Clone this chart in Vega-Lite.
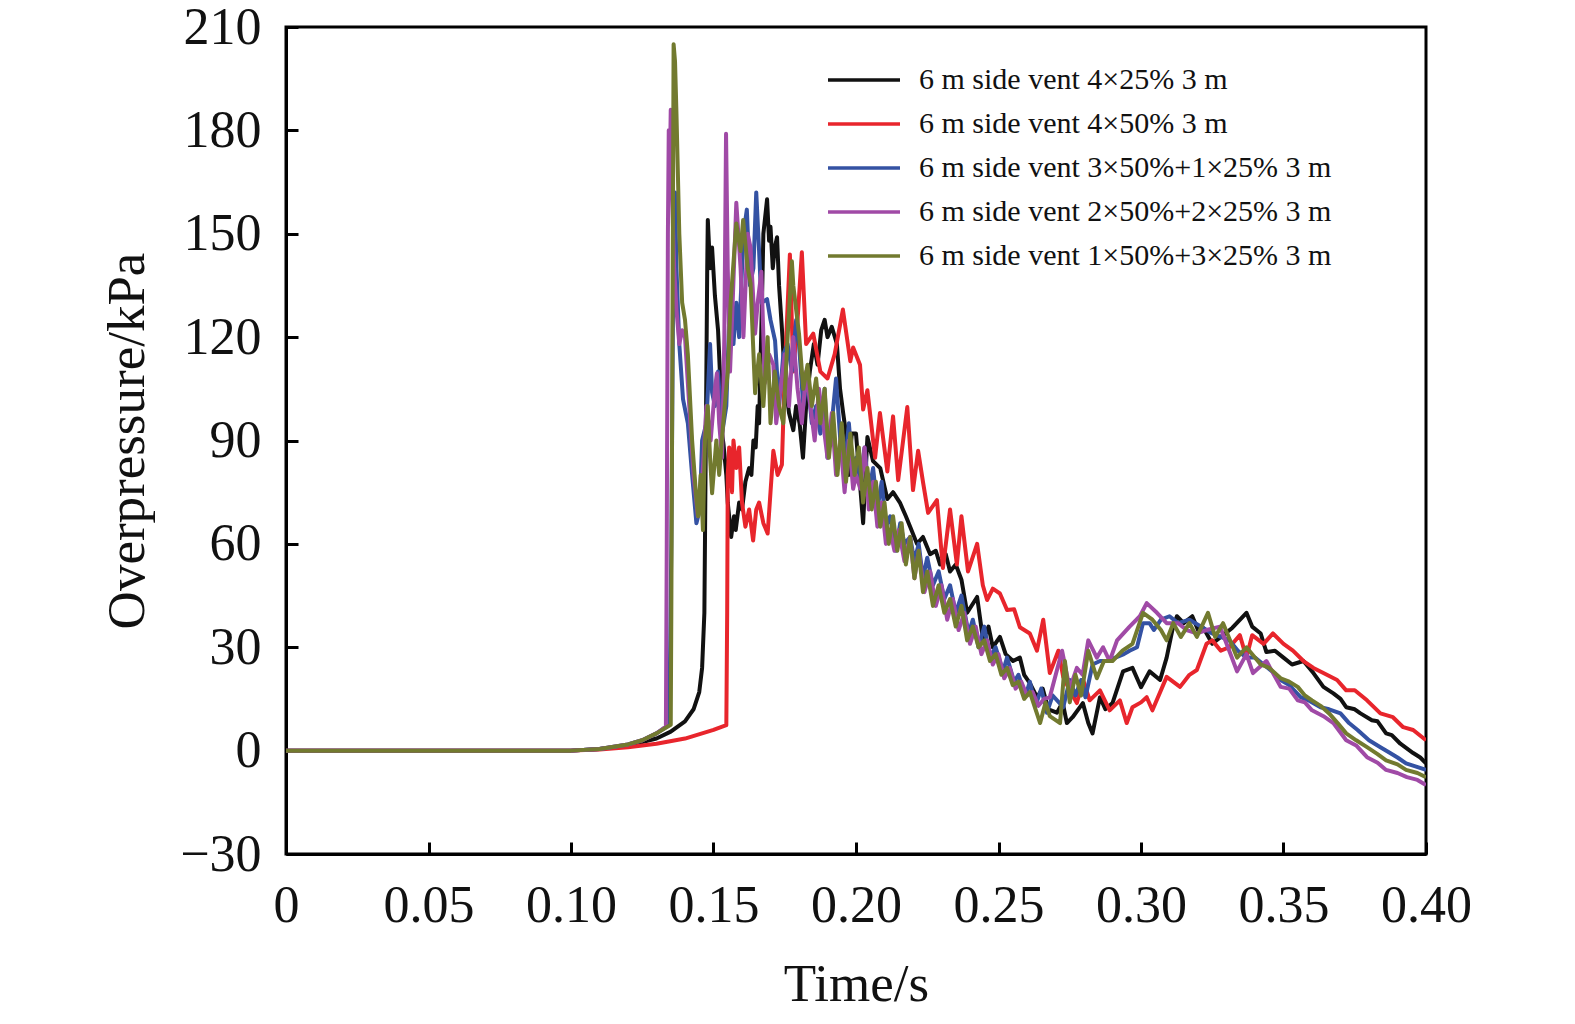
{
  "$schema": "https://vega.github.io/schema/vega-lite/v6.json",
  "autosize": "none",
  "padding": {"left": 286, "top": 27, "right": 149, "bottom": 170},
  "width": 1140,
  "height": 827,
  "background": "white",
  "config": {
    "font": "Liberation Serif",
    "view": {"stroke": "#000000", "strokeWidth": 3},
    "axis": {
      "labelFont": "Liberation Serif",
      "titleFont": "Liberation Serif",
      "labelColor": "#111111",
      "titleColor": "#111111",
      "labelFontSize": 52,
      "titleFontSize": 53,
      "titleFontWeight": "normal",
      "domainColor": "#000000",
      "domainWidth": 3,
      "tickColor": "#000000",
      "tickWidth": 3,
      "tickSize": -12,
      "grid": false
    },
    "legend": {
      "labelFont": "Liberation Serif",
      "labelFontSize": 30,
      "labelColor": "#111111"
    }
  },
  "datasets": {
    "names": [
      {"s": 1, "name": "6 m side vent 4×25% 3 m"},
      {"s": 2, "name": "6 m side vent 4×50% 3 m"},
      {"s": 3, "name": "6 m side vent 3×50%+1×25% 3 m"},
      {"s": 4, "name": "6 m side vent 2×50%+2×25% 3 m"},
      {"s": 5, "name": "6 m side vent 1×50%+3×25% 3 m"}
    ]
  },
  "data": {
    "values": [
      {"s":1,"t":0,"v":0},{"s":1,"t":0.05,"v":0},{"s":1,"t":0.1,"v":0},{"s":1,"t":0.11,"v":0.5},{"s":1,"t":0.12,"v":1.5},{"s":1,"t":0.13,"v":3.5},{"s":1,"t":0.135,"v":5.5},{"s":1,"t":0.14,"v":8.5},{"s":1,"t":0.143,"v":12},{"s":1,"t":0.145,"v":17},{"s":1,"t":0.146,"v":24},{"s":1,"t":0.1468,"v":40},{"s":1,"t":0.1473,"v":90},{"s":1,"t":0.1478,"v":140},{"s":1,"t":0.148,"v":154},{"s":1,"t":0.1488,"v":140},{"s":1,"t":0.1495,"v":146},{"s":1,"t":0.1505,"v":132},{"s":1,"t":0.1516,"v":122},{"s":1,"t":0.1525,"v":105},{"s":1,"t":0.153,"v":92},{"s":1,"t":0.1535,"v":89},{"s":1,"t":0.1545,"v":80},{"s":1,"t":0.155,"v":72},{"s":1,"t":0.1562,"v":62},{"s":1,"t":0.1572,"v":68},{"s":1,"t":0.1578,"v":64},{"s":1,"t":0.159,"v":72},{"s":1,"t":0.16,"v":70},{"s":1,"t":0.1612,"v":78},{"s":1,"t":0.1625,"v":82},{"s":1,"t":0.1633,"v":80},{"s":1,"t":0.164,"v":90},{"s":1,"t":0.1648,"v":88},{"s":1,"t":0.1655,"v":100},{"s":1,"t":0.166,"v":95},{"s":1,"t":0.167,"v":130},{"s":1,"t":0.1675,"v":150},{"s":1,"t":0.1688,"v":160},{"s":1,"t":0.1695,"v":148},{"s":1,"t":0.17,"v":152},{"s":1,"t":0.1708,"v":140},{"s":1,"t":0.1715,"v":146},{"s":1,"t":0.1723,"v":149},{"s":1,"t":0.173,"v":135},{"s":1,"t":0.1742,"v":120},{"s":1,"t":0.175,"v":108},{"s":1,"t":0.1765,"v":98},{"s":1,"t":0.178,"v":93},{"s":1,"t":0.179,"v":100},{"s":1,"t":0.1802,"v":95},{"s":1,"t":0.1814,"v":85},{"s":1,"t":0.1825,"v":100},{"s":1,"t":0.1838,"v":110},{"s":1,"t":0.1852,"v":118},{"s":1,"t":0.1865,"v":112},{"s":1,"t":0.1878,"v":122},{"s":1,"t":0.189,"v":125},{"s":1,"t":0.19,"v":120},{"s":1,"t":0.1915,"v":123},{"s":1,"t":0.1933,"v":118},{"s":1,"t":0.1944,"v":105},{"s":1,"t":0.1955,"v":98},{"s":1,"t":0.1965,"v":92},{"s":1,"t":0.1975,"v":80},{"s":1,"t":0.1985,"v":92},{"s":1,"t":0.2,"v":92},{"s":1,"t":0.2025,"v":66},{"s":1,"t":0.204,"v":91},{"s":1,"t":0.206,"v":84},{"s":1,"t":0.2085,"v":82},{"s":1,"t":0.211,"v":73},{"s":1,"t":0.213,"v":75},{"s":1,"t":0.2154,"v":72},{"s":1,"t":0.2175,"v":68},{"s":1,"t":0.219,"v":65},{"s":1,"t":0.2214,"v":60},{"s":1,"t":0.2235,"v":62},{"s":1,"t":0.226,"v":57},{"s":1,"t":0.228,"v":58},{"s":1,"t":0.2295,"v":54},{"s":1,"t":0.2315,"v":57},{"s":1,"t":0.233,"v":52},{"s":1,"t":0.235,"v":54},{"s":1,"t":0.237,"v":49.6},{"s":1,"t":0.239,"v":40},{"s":1,"t":0.2425,"v":44.6},{"s":1,"t":0.2446,"v":32},{"s":1,"t":0.2465,"v":36},{"s":1,"t":0.248,"v":30},{"s":1,"t":0.2505,"v":33},{"s":1,"t":0.2525,"v":28},{"s":1,"t":0.2551,"v":26},{"s":1,"t":0.2575,"v":27},{"s":1,"t":0.259,"v":22},{"s":1,"t":0.261,"v":19.6},{"s":1,"t":0.2635,"v":15.5},{"s":1,"t":0.2655,"v":18},{"s":1,"t":0.2675,"v":12},{"s":1,"t":0.2705,"v":11},{"s":1,"t":0.2725,"v":14},{"s":1,"t":0.274,"v":8},{"s":1,"t":0.276,"v":9.7},{"s":1,"t":0.2796,"v":13.8},{"s":1,"t":0.2815,"v":8},{"s":1,"t":0.283,"v":5},{"s":1,"t":0.2856,"v":15.5},{"s":1,"t":0.2875,"v":12},{"s":1,"t":0.29,"v":13.8},{"s":1,"t":0.2937,"v":23},{"s":1,"t":0.297,"v":24},{"s":1,"t":0.3,"v":18.4},{"s":1,"t":0.303,"v":23},{"s":1,"t":0.3067,"v":20.5},{"s":1,"t":0.309,"v":27},{"s":1,"t":0.311,"v":35},{"s":1,"t":0.3126,"v":39},{"s":1,"t":0.315,"v":37},{"s":1,"t":0.318,"v":39},{"s":1,"t":0.32,"v":35},{"s":1,"t":0.322,"v":35.5},{"s":1,"t":0.325,"v":31},{"s":1,"t":0.328,"v":33},{"s":1,"t":0.332,"v":35.6},{"s":1,"t":0.337,"v":40},{"s":1,"t":0.339,"v":36},{"s":1,"t":0.342,"v":34},{"s":1,"t":0.344,"v":28.6},{"s":1,"t":0.347,"v":29},{"s":1,"t":0.35,"v":27},{"s":1,"t":0.353,"v":25},{"s":1,"t":0.357,"v":26},{"s":1,"t":0.3605,"v":22.5},{"s":1,"t":0.364,"v":18.5},{"s":1,"t":0.3675,"v":16.6},{"s":1,"t":0.37,"v":15},{"s":1,"t":0.372,"v":12.6},{"s":1,"t":0.375,"v":12},{"s":1,"t":0.377,"v":10.8},{"s":1,"t":0.381,"v":8.8},{"s":1,"t":0.383,"v":8.5},{"s":1,"t":0.386,"v":5},{"s":1,"t":0.388,"v":4.5},{"s":1,"t":0.391,"v":2},{"s":1,"t":0.3955,"v":-0.7},{"s":1,"t":0.398,"v":-2},{"s":1,"t":0.4,"v":-3.7},

      {"s":2,"t":0,"v":0},{"s":2,"t":0.1,"v":0},{"s":2,"t":0.11,"v":0.3},{"s":2,"t":0.12,"v":1},{"s":2,"t":0.13,"v":2},{"s":2,"t":0.14,"v":3.5},{"s":2,"t":0.15,"v":6},{"s":2,"t":0.1545,"v":7.4},{"s":2,"t":0.1548,"v":40},{"s":2,"t":0.155,"v":80},{"s":2,"t":0.1555,"v":88},{"s":2,"t":0.1565,"v":75},{"s":2,"t":0.157,"v":90},{"s":2,"t":0.158,"v":82},{"s":2,"t":0.159,"v":88},{"s":2,"t":0.16,"v":72},{"s":2,"t":0.1612,"v":65},{"s":2,"t":0.1625,"v":70},{"s":2,"t":0.1639,"v":61},{"s":2,"t":0.165,"v":70},{"s":2,"t":0.166,"v":72},{"s":2,"t":0.1675,"v":66},{"s":2,"t":0.169,"v":63},{"s":2,"t":0.17,"v":75},{"s":2,"t":0.171,"v":87},{"s":2,"t":0.1725,"v":80},{"s":2,"t":0.174,"v":83},{"s":2,"t":0.175,"v":110},{"s":2,"t":0.1768,"v":144},{"s":2,"t":0.178,"v":110},{"s":2,"t":0.1795,"v":125},{"s":2,"t":0.181,"v":144.6},{"s":2,"t":0.1825,"v":118},{"s":2,"t":0.185,"v":121},{"s":2,"t":0.1875,"v":110},{"s":2,"t":0.19,"v":108},{"s":2,"t":0.1925,"v":115},{"s":2,"t":0.1954,"v":128},{"s":2,"t":0.198,"v":113},{"s":2,"t":0.199,"v":117},{"s":2,"t":0.2014,"v":112},{"s":2,"t":0.2025,"v":99},{"s":2,"t":0.204,"v":104.6},{"s":2,"t":0.2067,"v":85},{"s":2,"t":0.2084,"v":98},{"s":2,"t":0.211,"v":81},{"s":2,"t":0.213,"v":97},{"s":2,"t":0.2148,"v":78.5},{"s":2,"t":0.218,"v":99.7},{"s":2,"t":0.22,"v":75.6},{"s":2,"t":0.2218,"v":87},{"s":2,"t":0.2235,"v":78},{"s":2,"t":0.2253,"v":69},{"s":2,"t":0.2284,"v":72.7},{"s":2,"t":0.2305,"v":53},{"s":2,"t":0.233,"v":70},{"s":2,"t":0.2354,"v":54},{"s":2,"t":0.237,"v":68},{"s":2,"t":0.2393,"v":52},{"s":2,"t":0.2425,"v":60},{"s":2,"t":0.2445,"v":48},{"s":2,"t":0.246,"v":43.7},{"s":2,"t":0.248,"v":47},{"s":2,"t":0.2505,"v":45.6},{"s":2,"t":0.253,"v":40.8},{"s":2,"t":0.2555,"v":41},{"s":2,"t":0.2575,"v":35.8},{"s":2,"t":0.261,"v":34},{"s":2,"t":0.2635,"v":29},{"s":2,"t":0.2657,"v":38},{"s":2,"t":0.268,"v":22.5},{"s":2,"t":0.271,"v":29},{"s":2,"t":0.2727,"v":21.4},{"s":2,"t":0.275,"v":17.5},{"s":2,"t":0.2775,"v":13.8},{"s":2,"t":0.2797,"v":20.5},{"s":2,"t":0.282,"v":14.6},{"s":2,"t":0.2856,"v":17.5},{"s":2,"t":0.289,"v":11.7},{"s":2,"t":0.2926,"v":14.6},{"s":2,"t":0.295,"v":8},{"s":2,"t":0.297,"v":12.6},{"s":2,"t":0.3,"v":14},{"s":2,"t":0.302,"v":15.5},{"s":2,"t":0.304,"v":11.7},{"s":2,"t":0.309,"v":21.4},{"s":2,"t":0.3137,"v":18.5},{"s":2,"t":0.317,"v":22},{"s":2,"t":0.3196,"v":23.4},{"s":2,"t":0.323,"v":31},{"s":2,"t":0.325,"v":32},{"s":2,"t":0.328,"v":29},{"s":2,"t":0.331,"v":30},{"s":2,"t":0.3347,"v":33.5},{"s":2,"t":0.337,"v":27},{"s":2,"t":0.339,"v":33.5},{"s":2,"t":0.343,"v":31},{"s":2,"t":0.3463,"v":34},{"s":2,"t":0.35,"v":31},{"s":2,"t":0.3533,"v":29},{"s":2,"t":0.357,"v":26},{"s":2,"t":0.3605,"v":24},{"s":2,"t":0.364,"v":22.5},{"s":2,"t":0.3688,"v":20.5},{"s":2,"t":0.372,"v":17.5},{"s":2,"t":0.375,"v":17.5},{"s":2,"t":0.3793,"v":14.6},{"s":2,"t":0.384,"v":10.8},{"s":2,"t":0.3884,"v":9.7},{"s":2,"t":0.392,"v":6.8},{"s":2,"t":0.3955,"v":6},{"s":2,"t":0.4,"v":3},

      {"s":3,"t":0,"v":0},{"s":3,"t":0.1,"v":0},{"s":3,"t":0.11,"v":0.5},{"s":3,"t":0.12,"v":1.8},{"s":3,"t":0.125,"v":3},{"s":3,"t":0.13,"v":5},{"s":3,"t":0.1345,"v":7.5},{"s":3,"t":0.1352,"v":60},{"s":3,"t":0.1358,"v":130},{"s":3,"t":0.1365,"v":162},{"s":3,"t":0.137,"v":140},{"s":3,"t":0.138,"v":118},{"s":3,"t":0.1393,"v":102},{"s":3,"t":0.141,"v":95},{"s":3,"t":0.1425,"v":80},{"s":3,"t":0.144,"v":66},{"s":3,"t":0.1452,"v":70},{"s":3,"t":0.146,"v":90},{"s":3,"t":0.1475,"v":95},{"s":3,"t":0.1488,"v":118},{"s":3,"t":0.1495,"v":104},{"s":3,"t":0.1505,"v":100},{"s":3,"t":0.1516,"v":110},{"s":3,"t":0.153,"v":92},{"s":3,"t":0.1545,"v":100},{"s":3,"t":0.1555,"v":125},{"s":3,"t":0.157,"v":118},{"s":3,"t":0.158,"v":130},{"s":3,"t":0.159,"v":120},{"s":3,"t":0.1605,"v":150},{"s":3,"t":0.1617,"v":157},{"s":3,"t":0.1628,"v":135},{"s":3,"t":0.164,"v":140},{"s":3,"t":0.165,"v":162},{"s":3,"t":0.166,"v":145},{"s":3,"t":0.1668,"v":130},{"s":3,"t":0.1688,"v":131},{"s":3,"t":0.17,"v":125},{"s":3,"t":0.1716,"v":119},{"s":3,"t":0.173,"v":100},{"s":3,"t":0.1745,"v":115},{"s":3,"t":0.176,"v":118},{"s":3,"t":0.1775,"v":110},{"s":3,"t":0.179,"v":125},{"s":3,"t":0.18,"v":118},{"s":3,"t":0.1815,"v":100},{"s":3,"t":0.183,"v":108},{"s":3,"t":0.1845,"v":95},{"s":3,"t":0.186,"v":100},{"s":3,"t":0.1875,"v":92},{"s":3,"t":0.189,"v":105},{"s":3,"t":0.19,"v":85},{"s":3,"t":0.1915,"v":95},{"s":3,"t":0.193,"v":108},{"s":3,"t":0.1945,"v":90},{"s":3,"t":0.196,"v":82},{"s":3,"t":0.1975,"v":95},{"s":3,"t":0.199,"v":80},{"s":3,"t":0.2,"v":85},{"s":3,"t":0.2015,"v":78},{"s":3,"t":0.203,"v":88},{"s":3,"t":0.2045,"v":75},{"s":3,"t":0.206,"v":82},{"s":3,"t":0.2075,"v":70},{"s":3,"t":0.209,"v":78},{"s":3,"t":0.2105,"v":65},{"s":3,"t":0.212,"v":68},{"s":3,"t":0.214,"v":58},{"s":3,"t":0.2155,"v":66},{"s":3,"t":0.217,"v":60},{"s":3,"t":0.219,"v":62},{"s":3,"t":0.2205,"v":55},{"s":3,"t":0.222,"v":60},{"s":3,"t":0.2235,"v":50},{"s":3,"t":0.225,"v":56},{"s":3,"t":0.227,"v":48},{"s":3,"t":0.229,"v":52},{"s":3,"t":0.231,"v":44},{"s":3,"t":0.233,"v":48},{"s":3,"t":0.235,"v":40},{"s":3,"t":0.237,"v":45},{"s":3,"t":0.2395,"v":34},{"s":3,"t":0.241,"v":38},{"s":3,"t":0.243,"v":30},{"s":3,"t":0.245,"v":36},{"s":3,"t":0.247,"v":27},{"s":3,"t":0.249,"v":30},{"s":3,"t":0.2516,"v":23},{"s":3,"t":0.253,"v":27},{"s":3,"t":0.2555,"v":20},{"s":3,"t":0.257,"v":22},{"s":3,"t":0.2595,"v":16},{"s":3,"t":0.261,"v":20},{"s":3,"t":0.263,"v":13},{"s":3,"t":0.265,"v":18},{"s":3,"t":0.267,"v":11},{"s":3,"t":0.269,"v":16},{"s":3,"t":0.2727,"v":12.6},{"s":3,"t":0.275,"v":20.5},{"s":3,"t":0.277,"v":16},{"s":3,"t":0.279,"v":20.5},{"s":3,"t":0.2805,"v":15.5},{"s":3,"t":0.283,"v":25},{"s":3,"t":0.2856,"v":26},{"s":3,"t":0.288,"v":26},{"s":3,"t":0.291,"v":27},{"s":3,"t":0.294,"v":28},{"s":3,"t":0.296,"v":29},{"s":3,"t":0.2986,"v":30},{"s":3,"t":0.3007,"v":37},{"s":3,"t":0.303,"v":37},{"s":3,"t":0.3045,"v":35},{"s":3,"t":0.307,"v":38},{"s":3,"t":0.31,"v":39},{"s":3,"t":0.313,"v":37},{"s":3,"t":0.317,"v":38},{"s":3,"t":0.321,"v":36},{"s":3,"t":0.325,"v":34},{"s":3,"t":0.328,"v":33},{"s":3,"t":0.331,"v":32},{"s":3,"t":0.334,"v":29},{"s":3,"t":0.337,"v":27},{"s":3,"t":0.34,"v":27},{"s":3,"t":0.343,"v":25},{"s":3,"t":0.346,"v":23},{"s":3,"t":0.349,"v":20.5},{"s":3,"t":0.352,"v":19},{"s":3,"t":0.356,"v":15.5},{"s":3,"t":0.359,"v":14.5},{"s":3,"t":0.363,"v":12.6},{"s":3,"t":0.366,"v":12},{"s":3,"t":0.37,"v":10.8},{"s":3,"t":0.373,"v":8},{"s":3,"t":0.376,"v":6},{"s":3,"t":0.38,"v":3},{"s":3,"t":0.384,"v":1},{"s":3,"t":0.3874,"v":-0.7},{"s":3,"t":0.39,"v":-2},{"s":3,"t":0.393,"v":-3.7},{"s":3,"t":0.396,"v":-4.5},{"s":3,"t":0.4,"v":-5.6},

      {"s":4,"t":0,"v":0},{"s":4,"t":0.1,"v":0},{"s":4,"t":0.11,"v":0.5},{"s":4,"t":0.12,"v":1.8},{"s":4,"t":0.125,"v":3},{"s":4,"t":0.13,"v":5},{"s":4,"t":0.1333,"v":7},{"s":4,"t":0.1336,"v":60},{"s":4,"t":0.134,"v":150},{"s":4,"t":0.1343,"v":180},{"s":4,"t":0.1347,"v":170},{"s":4,"t":0.135,"v":186},{"s":4,"t":0.1355,"v":160},{"s":4,"t":0.1362,"v":140},{"s":4,"t":0.137,"v":128},{"s":4,"t":0.138,"v":118},{"s":4,"t":0.139,"v":122},{"s":4,"t":0.14,"v":120},{"s":4,"t":0.1415,"v":100},{"s":4,"t":0.143,"v":80},{"s":4,"t":0.1445,"v":68},{"s":4,"t":0.1455,"v":72},{"s":4,"t":0.1465,"v":85},{"s":4,"t":0.1475,"v":100},{"s":4,"t":0.149,"v":90},{"s":4,"t":0.1505,"v":105},{"s":4,"t":0.1512,"v":109.5},{"s":4,"t":0.152,"v":95},{"s":4,"t":0.153,"v":85},{"s":4,"t":0.1538,"v":120},{"s":4,"t":0.1544,"v":179},{"s":4,"t":0.155,"v":140},{"s":4,"t":0.1558,"v":110},{"s":4,"t":0.1565,"v":125},{"s":4,"t":0.158,"v":159},{"s":4,"t":0.1595,"v":140},{"s":4,"t":0.1605,"v":120},{"s":4,"t":0.162,"v":150},{"s":4,"t":0.163,"v":146},{"s":4,"t":0.1646,"v":121},{"s":4,"t":0.1655,"v":130},{"s":4,"t":0.1668,"v":139},{"s":4,"t":0.168,"v":106.6},{"s":4,"t":0.1695,"v":115},{"s":4,"t":0.171,"v":112},{"s":4,"t":0.172,"v":95},{"s":4,"t":0.1735,"v":105},{"s":4,"t":0.175,"v":115},{"s":4,"t":0.1765,"v":100},{"s":4,"t":0.178,"v":120},{"s":4,"t":0.1795,"v":105},{"s":4,"t":0.181,"v":95},{"s":4,"t":0.1825,"v":110},{"s":4,"t":0.184,"v":100},{"s":4,"t":0.1855,"v":90},{"s":4,"t":0.187,"v":105},{"s":4,"t":0.1885,"v":95},{"s":4,"t":0.19,"v":85},{"s":4,"t":0.1915,"v":98},{"s":4,"t":0.193,"v":80},{"s":4,"t":0.1945,"v":90},{"s":4,"t":0.196,"v":75},{"s":4,"t":0.1975,"v":90},{"s":4,"t":0.199,"v":76},{"s":4,"t":0.2,"v":80},{"s":4,"t":0.2015,"v":76},{"s":4,"t":0.203,"v":88},{"s":4,"t":0.2045,"v":70},{"s":4,"t":0.206,"v":78},{"s":4,"t":0.2075,"v":65},{"s":4,"t":0.209,"v":72},{"s":4,"t":0.2105,"v":60},{"s":4,"t":0.212,"v":64},{"s":4,"t":0.2135,"v":58},{"s":4,"t":0.215,"v":64},{"s":4,"t":0.217,"v":55},{"s":4,"t":0.219,"v":62},{"s":4,"t":0.2205,"v":50},{"s":4,"t":0.222,"v":58},{"s":4,"t":0.224,"v":46},{"s":4,"t":0.226,"v":52},{"s":4,"t":0.228,"v":42},{"s":4,"t":0.23,"v":48},{"s":4,"t":0.232,"v":38},{"s":4,"t":0.234,"v":44},{"s":4,"t":0.236,"v":35},{"s":4,"t":0.238,"v":40},{"s":4,"t":0.24,"v":31},{"s":4,"t":0.242,"v":36},{"s":4,"t":0.244,"v":28},{"s":4,"t":0.246,"v":32},{"s":4,"t":0.248,"v":25},{"s":4,"t":0.25,"v":28},{"s":4,"t":0.252,"v":21},{"s":4,"t":0.254,"v":24},{"s":4,"t":0.256,"v":18},{"s":4,"t":0.258,"v":20},{"s":4,"t":0.26,"v":16},{"s":4,"t":0.262,"v":17},{"s":4,"t":0.264,"v":13},{"s":4,"t":0.266,"v":15},{"s":4,"t":0.268,"v":15.5},{"s":4,"t":0.2723,"v":29},{"s":4,"t":0.275,"v":18},{"s":4,"t":0.2775,"v":24},{"s":4,"t":0.2795,"v":22},{"s":4,"t":0.2815,"v":32},{"s":4,"t":0.2845,"v":27},{"s":4,"t":0.2867,"v":30},{"s":4,"t":0.289,"v":26},{"s":4,"t":0.2916,"v":32},{"s":4,"t":0.296,"v":36},{"s":4,"t":0.2996,"v":39},{"s":4,"t":0.302,"v":42.8},{"s":4,"t":0.3056,"v":40},{"s":4,"t":0.309,"v":37},{"s":4,"t":0.313,"v":37},{"s":4,"t":0.316,"v":35},{"s":4,"t":0.3196,"v":34},{"s":4,"t":0.323,"v":35},{"s":4,"t":0.3277,"v":36},{"s":4,"t":0.3305,"v":30},{"s":4,"t":0.3337,"v":23},{"s":4,"t":0.337,"v":28},{"s":4,"t":0.3393,"v":22.5},{"s":4,"t":0.344,"v":26},{"s":4,"t":0.349,"v":18.5},{"s":4,"t":0.352,"v":18},{"s":4,"t":0.355,"v":14.6},{"s":4,"t":0.3575,"v":14},{"s":4,"t":0.36,"v":11.7},{"s":4,"t":0.364,"v":10},{"s":4,"t":0.3675,"v":8},{"s":4,"t":0.372,"v":3},{"s":4,"t":0.3755,"v":1.5},{"s":4,"t":0.3793,"v":-1.9},{"s":4,"t":0.383,"v":-3.5},{"s":4,"t":0.386,"v":-5.6},{"s":4,"t":0.39,"v":-6.5},{"s":4,"t":0.3933,"v":-7.7},{"s":4,"t":0.397,"v":-8.5},{"s":4,"t":0.4,"v":-10},

      {"s":5,"t":0,"v":0},{"s":5,"t":0.1,"v":0},{"s":5,"t":0.11,"v":0.5},{"s":5,"t":0.12,"v":1.8},{"s":5,"t":0.125,"v":3},{"s":5,"t":0.13,"v":5},{"s":5,"t":0.135,"v":7.5},{"s":5,"t":0.1352,"v":40},{"s":5,"t":0.1356,"v":120},{"s":5,"t":0.136,"v":205},{"s":5,"t":0.1365,"v":200},{"s":5,"t":0.137,"v":185},{"s":5,"t":0.138,"v":150},{"s":5,"t":0.139,"v":130},{"s":5,"t":0.14,"v":125},{"s":5,"t":0.141,"v":115},{"s":5,"t":0.1425,"v":90},{"s":5,"t":0.1438,"v":75},{"s":5,"t":0.1446,"v":68},{"s":5,"t":0.1455,"v":80},{"s":5,"t":0.1463,"v":64},{"s":5,"t":0.147,"v":90},{"s":5,"t":0.148,"v":100},{"s":5,"t":0.1488,"v":85},{"s":5,"t":0.1495,"v":74.7},{"s":5,"t":0.151,"v":90},{"s":5,"t":0.152,"v":80},{"s":5,"t":0.1533,"v":94},{"s":5,"t":0.155,"v":110},{"s":5,"t":0.156,"v":130},{"s":5,"t":0.158,"v":153},{"s":5,"t":0.1595,"v":145},{"s":5,"t":0.1604,"v":154},{"s":5,"t":0.162,"v":140},{"s":5,"t":0.163,"v":135.6},{"s":5,"t":0.1646,"v":103.7},{"s":5,"t":0.166,"v":115},{"s":5,"t":0.1675,"v":100},{"s":5,"t":0.169,"v":120},{"s":5,"t":0.17,"v":95},{"s":5,"t":0.1715,"v":110},{"s":5,"t":0.173,"v":100},{"s":5,"t":0.1745,"v":95},{"s":5,"t":0.176,"v":120},{"s":5,"t":0.1775,"v":142},{"s":5,"t":0.178,"v":135},{"s":5,"t":0.18,"v":121},{"s":5,"t":0.1815,"v":105},{"s":5,"t":0.183,"v":112},{"s":5,"t":0.1845,"v":100},{"s":5,"t":0.186,"v":108},{"s":5,"t":0.1875,"v":95},{"s":5,"t":0.189,"v":105},{"s":5,"t":0.1905,"v":85},{"s":5,"t":0.192,"v":98},{"s":5,"t":0.1935,"v":80},{"s":5,"t":0.195,"v":95},{"s":5,"t":0.1965,"v":78},{"s":5,"t":0.198,"v":92},{"s":5,"t":0.1995,"v":80},{"s":5,"t":0.201,"v":88},{"s":5,"t":0.2025,"v":72},{"s":5,"t":0.204,"v":82},{"s":5,"t":0.2055,"v":70},{"s":5,"t":0.207,"v":78},{"s":5,"t":0.2085,"v":65},{"s":5,"t":0.21,"v":72},{"s":5,"t":0.2115,"v":60},{"s":5,"t":0.213,"v":68},{"s":5,"t":0.2145,"v":58},{"s":5,"t":0.216,"v":66},{"s":5,"t":0.2175,"v":54},{"s":5,"t":0.219,"v":62},{"s":5,"t":0.2205,"v":50},{"s":5,"t":0.222,"v":58},{"s":5,"t":0.2235,"v":46},{"s":5,"t":0.225,"v":52},{"s":5,"t":0.227,"v":42},{"s":5,"t":0.229,"v":48},{"s":5,"t":0.231,"v":40},{"s":5,"t":0.233,"v":44},{"s":5,"t":0.235,"v":36},{"s":5,"t":0.237,"v":42},{"s":5,"t":0.239,"v":32},{"s":5,"t":0.241,"v":36},{"s":5,"t":0.243,"v":30},{"s":5,"t":0.245,"v":32},{"s":5,"t":0.247,"v":26},{"s":5,"t":0.249,"v":28},{"s":5,"t":0.251,"v":22},{"s":5,"t":0.253,"v":24},{"s":5,"t":0.255,"v":19},{"s":5,"t":0.257,"v":20},{"s":5,"t":0.259,"v":15},{"s":5,"t":0.261,"v":17},{"s":5,"t":0.263,"v":12},{"s":5,"t":0.2646,"v":8},{"s":5,"t":0.2665,"v":14},{"s":5,"t":0.268,"v":10},{"s":5,"t":0.2716,"v":8},{"s":5,"t":0.2733,"v":26},{"s":5,"t":0.275,"v":14},{"s":5,"t":0.277,"v":22},{"s":5,"t":0.279,"v":16},{"s":5,"t":0.2815,"v":29},{"s":5,"t":0.2845,"v":21},{"s":5,"t":0.287,"v":26},{"s":5,"t":0.29,"v":26},{"s":5,"t":0.2935,"v":29},{"s":5,"t":0.297,"v":31},{"s":5,"t":0.3007,"v":40},{"s":5,"t":0.304,"v":38},{"s":5,"t":0.307,"v":35},{"s":5,"t":0.309,"v":32},{"s":5,"t":0.3113,"v":37},{"s":5,"t":0.314,"v":33},{"s":5,"t":0.317,"v":37},{"s":5,"t":0.3196,"v":33},{"s":5,"t":0.3235,"v":40},{"s":5,"t":0.326,"v":33},{"s":5,"t":0.3288,"v":37},{"s":5,"t":0.3337,"v":27},{"s":5,"t":0.337,"v":30},{"s":5,"t":0.342,"v":25},{"s":5,"t":0.345,"v":24},{"s":5,"t":0.349,"v":21},{"s":5,"t":0.352,"v":20},{"s":5,"t":0.355,"v":18.5},{"s":5,"t":0.3575,"v":16},{"s":5,"t":0.36,"v":14.6},{"s":5,"t":0.363,"v":13},{"s":5,"t":0.366,"v":10.8},{"s":5,"t":0.369,"v":8},{"s":5,"t":0.372,"v":5},{"s":5,"t":0.3755,"v":3},{"s":5,"t":0.3793,"v":1},{"s":5,"t":0.383,"v":-1},{"s":5,"t":0.386,"v":-2.8},{"s":5,"t":0.39,"v":-4},{"s":5,"t":0.393,"v":-5.6},{"s":5,"t":0.397,"v":-6.5},{"s":5,"t":0.4,"v":-7.7}
    ]
  },
  "transform": [
    {"lookup": "s", "from": {"data": {"name": "names"}, "key": "s", "fields": ["name"]}}
  ],
  "mark": {"type": "line", "strokeWidth": 4, "strokeJoin": "round", "clip": true},
  "encoding": {
    "x": {
      "field": "t",
      "type": "quantitative",
      "scale": {"domain": [0, 0.4], "nice": false, "zero": false},
      "axis": {
        "title": "Time/s",
        "values": [0, 0.05, 0.1, 0.15, 0.2, 0.25, 0.3, 0.35, 0.4],
        "labelExpr": "datum.value == 0 ? '0' : format(datum.value, '.2f')",
        "labelPadding": 38,
        "labelFlush": false,
        "titleY": 146,
        "titleBaseline": "alphabetic"
      }
    },
    "y": {
      "field": "v",
      "type": "quantitative",
      "scale": {"domain": [-30, 210], "nice": false, "zero": false},
      "axis": {
        "title": "Overpressure/kPa",
        "values": [-30, 0, 30, 60, 90, 120, 150, 180, 210],
        "labelPadding": 37,
        "labelFlush": false,
        "titleX": -143,
        "titleBaseline": "alphabetic"
      }
    },
    "color": {
      "field": "name",
      "type": "nominal",
      "scale": {
        "domain": [
          "6 m side vent 4×25% 3 m",
          "6 m side vent 4×50% 3 m",
          "6 m side vent 3×50%+1×25% 3 m",
          "6 m side vent 2×50%+2×25% 3 m",
          "6 m side vent 1×50%+3×25% 3 m"
        ],
        "range": ["#111111", "#e8252c", "#3452a3", "#a04aa6", "#727a2f"]
      },
      "legend": {
        "title": null,
        "orient": "none",
        "legendX": 563,
        "legendY": 38,
        "padding": 0,
        "symbolType": "M-3,0H3",
        "symbolSize": 576,
        "symbolStrokeWidth": 3.5,
        "labelOffset": 40,
        "rowPadding": 14,
        "labelLimit": 0
      }
    }
  }
}
